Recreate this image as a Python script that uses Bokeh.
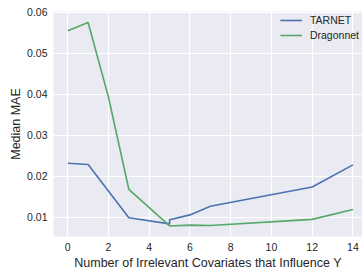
from bokeh.plotting import figure
from bokeh.embed import file_html
from bokeh.resources import INLINE
from bokeh.models import Range1d, FixedTicker, Legend, LegendItem, Title

tarnet_x = [0, 1, 3, 5, 5, 6, 7, 12, 14]
tarnet_y = [0.0232, 0.0229, 0.0099, 0.0084, 0.0094, 0.0106, 0.0127, 0.0174, 0.0228]
dragon_x = [0, 1, 2, 3, 5, 6, 7, 12, 14]
dragon_y = [0.0555, 0.0575, 0.0393, 0.0168, 0.0079, 0.0081, 0.0080, 0.0095, 0.0119]
x_ticks = [0, 2, 4, 6, 8, 10, 12, 14]
y_ticks = [0.01, 0.02, 0.03, 0.04, 0.05, 0.06]
x_label = "Number of Irrelevant Covariates that Influence Y"
y_label = "Median MAE"

FONT = "Liberation Sans"
TXT = "#262626"

p = figure(width=362, height=269, output_backend="svg", toolbar_location=None,
           x_range=Range1d(-0.7, 14.47), y_range=Range1d(0.00533, 0.0602),
           min_border_left=53, min_border_right=0, min_border_top=11, min_border_bottom=29)
p.background_fill_color = "#EAEAF2"
p.border_fill_color = "white"
p.outline_line_color = None

for ax in (p.xaxis, p.yaxis):
    ax.axis_line_color = None
    ax.major_tick_line_color = None
    ax.minor_tick_line_color = None
    ax.major_tick_out = 0
    ax.major_tick_in = 0
    ax.minor_tick_out = 0
    ax.minor_tick_in = 0
    ax.major_label_text_font = FONT
    ax.major_label_text_font_size = "10.5px"
    ax.major_label_text_color = TXT
    ax.axis_label_text_font = FONT
    ax.axis_label_text_font_size = "12.5px"
    ax.axis_label_text_font_style = "normal"
    ax.axis_label_text_color = TXT

p.xaxis.ticker = FixedTicker(ticks=x_ticks)
p.yaxis.ticker = FixedTicker(ticks=y_ticks)
p.xaxis.major_label_standoff = 6
p.yaxis.major_label_standoff = 6
p.yaxis.axis_label_standoff = 1
p.yaxis.axis_label = y_label

# x-axis title as a Title placed below the axis
xt = Title(text=x_label, align="center", text_font=FONT, text_font_size="12.5px",
           text_font_style="normal", text_color=TXT, standoff=0, offset=1,
           vertical_align="bottom", text_line_height=0.7)
p.add_layout(xt, "below")

p.xgrid.ticker = FixedTicker(ticks=x_ticks)
p.ygrid.ticker = FixedTicker(ticks=y_ticks)
for g in (p.xgrid, p.ygrid):
    g.grid_line_color = "white"
    g.grid_line_width = 1.2

r1 = p.line(tarnet_x, tarnet_y, line_color="#4C72B0", line_width=1.6)
r2 = p.line(dragon_x, dragon_y, line_color="#55A868", line_width=1.6)

legend = Legend(items=[LegendItem(label="TARNET", renderers=[r1]),
                       LegendItem(label="Dragonnet", renderers=[r2])],
                location="top_right")
legend.background_fill_alpha = 0
legend.border_line_color = None
legend.label_text_font = FONT
legend.label_text_font_size = "10.5px"
legend.label_text_color = TXT
legend.glyph_width = 22
legend.glyph_height = 12
legend.label_standoff = 8
legend.spacing = 3
legend.margin = 3
legend.padding = 3
p.add_layout(legend)

open("out.html", "w").write(file_html(p, INLINE))
